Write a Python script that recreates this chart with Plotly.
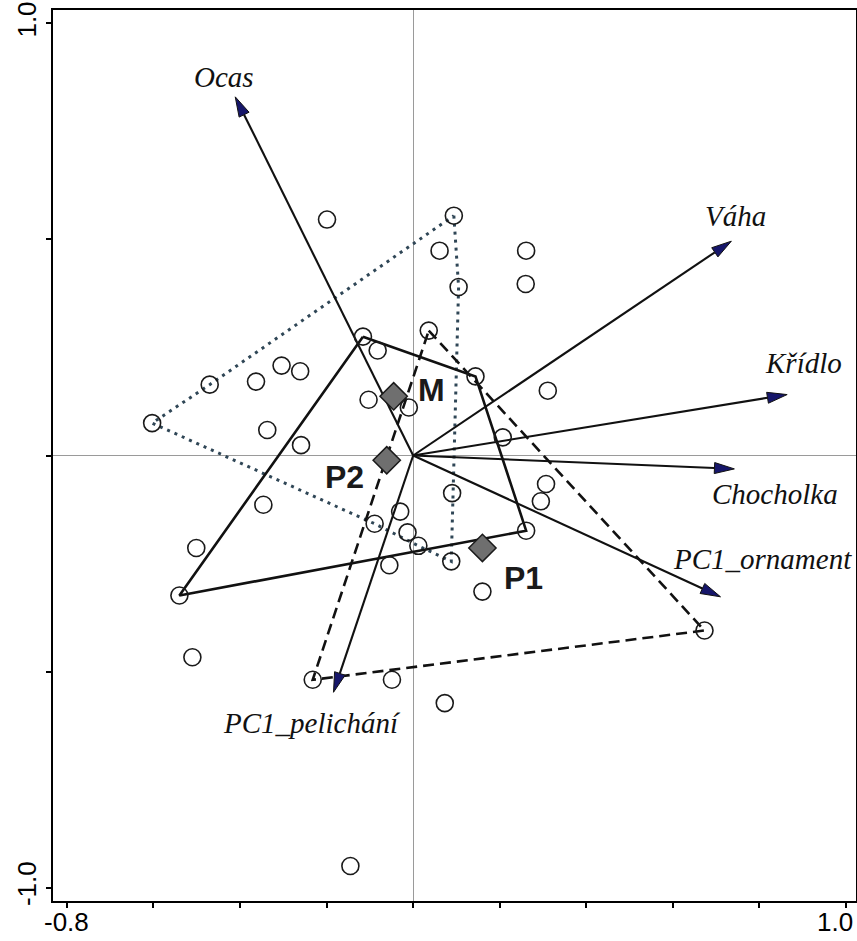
import math
import plotly.graph_objects as go

# ---- sample scores (open circles) ----
SAMPLE_X = [-0.199, 0.094, 0.061, 0.261, 0.105, 0.260, 0.036, -0.116, -0.082, 0.144,
            0.311, -0.304, -0.261, -0.363, -0.470, -0.103, -0.010, -0.603, -0.337, -0.259,
            0.207, 0.307, 0.295, 0.090, -0.346, -0.030, -0.089, -0.013, 0.012, 0.261,
            0.088, -0.055, -0.501, -0.540, 0.160, 0.673, -0.510, -0.232, -0.049, 0.073,
            -0.145]
SAMPLE_Y = [0.546, 0.555, 0.474, 0.474, 0.390, 0.397, 0.289, 0.275, 0.243, 0.183,
            0.150, 0.208, 0.195, 0.171, 0.164, 0.129, 0.111, 0.075, 0.059, 0.024,
            0.042, -0.066, -0.106, -0.087, -0.114, -0.130, -0.158, -0.178, -0.209, -0.174,
            -0.245, -0.254, -0.214, -0.324, -0.315, -0.405, -0.467, -0.519, -0.519, -0.573,
            -0.950]

# ---- group envelopes (indices into the samples) ----
HULL_SOLID = [7, 9, 29, 33]
HULL_DOTTED = [1, 4, 30, 28, 26, 17, 14]
HULL_DASHED = [6, 35, 37]

# ---- group centroids ----
CENTROID_NAMES = ["M", "P2", "P1"]
CENTROID_X = [-0.045, -0.061, 0.160]
CENTROID_Y = [0.137, -0.011, -0.214]
CENTROID_LABEL_X = [0.043, -0.159, 0.256]
CENTROID_LABEL_Y = [0.151, -0.049, -0.284]

# ---- variable vectors ----
VAR_NAMES = ["Ocas", "Váha", "Křídlo", "Chocholka", "PC1_ornament", "PC1_pelichání"]
VAR_X = [-0.411, 0.735, 0.864, 0.742, 0.710, -0.184]
VAR_Y = [0.830, 0.496, 0.141, -0.031, -0.327, -0.548]
VAR_LABEL_X = [-0.438, 0.745, 0.901, 0.836, 0.807, -0.234]
VAR_LABEL_Y = [0.876, 0.554, 0.214, -0.089, -0.239, -0.618]

# ---- axes ----
X_TICKS = [-0.8, -0.6, -0.4, -0.2, 0.0, 0.2, 0.4, 0.6, 0.8, 1.0]
X_LABEL_VALUES = [-0.8, 1.0]
X_LABEL_TEXT = ["-0.8", "1.0"]
X_LABEL_SHIFT = [0, -11]
Y_TICKS = [-1.0, -0.5, 0.0, 0.5, 1.0]
Y_TICKTEXT = ["-1.0", "", "", "", "1.0"]

fig = go.Figure()


def hull_trace(idx, dash, color, width):
    xs = [SAMPLE_X[i] for i in idx] + [SAMPLE_X[idx[0]]]
    ys = [SAMPLE_Y[i] for i in idx] + [SAMPLE_Y[idx[0]]]
    return go.Scatter(x=xs, y=ys, mode="lines",
                      line=dict(color=color, width=width, dash=dash),
                      hoverinfo="skip", showlegend=False)


fig.add_trace(hull_trace(HULL_DOTTED, "3px,5px", "#2f4656", 3))
fig.add_trace(hull_trace(HULL_DASHED, "11px,6px", "#111111", 2.6))
fig.add_trace(hull_trace(HULL_SOLID, "solid", "#111111", 2.6))

# vectors with arrowheads
HEAD_LEN = 0.046
HEAD_HALF = 0.0128
for vx, vy in zip(VAR_X, VAR_Y):
    L = math.hypot(vx, vy)
    ux, uy = vx / L, vy / L
    bx, by = vx - ux * HEAD_LEN, vy - uy * HEAD_LEN
    px, py = -uy * HEAD_HALF, ux * HEAD_HALF
    fig.add_trace(go.Scatter(x=[0, bx], y=[0, by], mode="lines",
                             line=dict(color="#111111", width=2.1),
                             hoverinfo="skip", showlegend=False))
    fig.add_trace(go.Scatter(x=[vx, bx + px, bx - px, vx], y=[vy, by + py, by - py, vy],
                             mode="lines", fill="toself", fillcolor="#16166a",
                             line=dict(color="#111111", width=1),
                             hoverinfo="skip", showlegend=False))

# samples
fig.add_trace(go.Scatter(x=SAMPLE_X, y=SAMPLE_Y, mode="markers",
                         marker=dict(symbol="circle-open", size=17,
                                     color="#1a1a1a", line=dict(width=1.6)),
                         hoverinfo="skip", showlegend=False))

# centroids
fig.add_trace(go.Scatter(x=CENTROID_X, y=CENTROID_Y, mode="markers",
                         marker=dict(symbol="diamond", size=21, color="#6f6f6f",
                                     line=dict(color="#1a1a1a", width=1.5)),
                         hoverinfo="skip", showlegend=False))

for name, x, y in zip(CENTROID_NAMES, CENTROID_LABEL_X, CENTROID_LABEL_Y):
    fig.add_annotation(x=x, y=y, text="<b>%s</b>" % name, showarrow=False,
                       font=dict(family="Liberation Sans, Arial", size=32, color="#1a1a1a"),
                       xanchor="center", yanchor="middle")

for name, x, y in zip(VAR_NAMES, VAR_LABEL_X, VAR_LABEL_Y):
    fig.add_annotation(x=x, y=y, text="<i>%s</i>" % name, showarrow=False,
                       font=dict(family="Liberation Serif, Times New Roman", size=29, color="#111111"),
                       xanchor="center", yanchor="middle")

TICK_FONT = dict(family="Liberation Sans, Arial", size=26, color="black")

# x tick labels (only the end values are labelled)
for v, t, s in zip(X_LABEL_VALUES, X_LABEL_TEXT, X_LABEL_SHIFT):
    fig.add_annotation(x=v, y=0, xref="x", yref="paper", text=t,
                       showarrow=False, font=TICK_FONT, xanchor="center", yanchor="top",
                       xshift=s, yshift=-5, borderpad=0)

fig.update_layout(
    width=857, height=941,
    margin=dict(l=53, r=1, t=10, b=40),
    plot_bgcolor="white", paper_bgcolor="white",
    showlegend=False,
    xaxis=dict(range=[-0.832, 1.023], tickvals=X_TICKS, showticklabels=False,
               ticks="outside", ticklen=5, tickwidth=1.5, tickcolor="black",
               showline=True, linecolor="black", linewidth=2, mirror=True,
               showgrid=False, zeroline=True, zerolinecolor="#9a9a9a", zerolinewidth=1,
               automargin=False),
    yaxis=dict(range=[-1.031, 1.031], tickvals=Y_TICKS, ticktext=Y_TICKTEXT,
               ticks="outside", ticklen=5, tickwidth=1.5, tickcolor="black",
               showline=True, linecolor="black", linewidth=2, mirror=True,
               showgrid=False, zeroline=True, zerolinecolor="#9a9a9a", zerolinewidth=1,
               automargin=False, tickangle=-90,
               tickfont=TICK_FONT),
)

fig.write_html("out.html")
